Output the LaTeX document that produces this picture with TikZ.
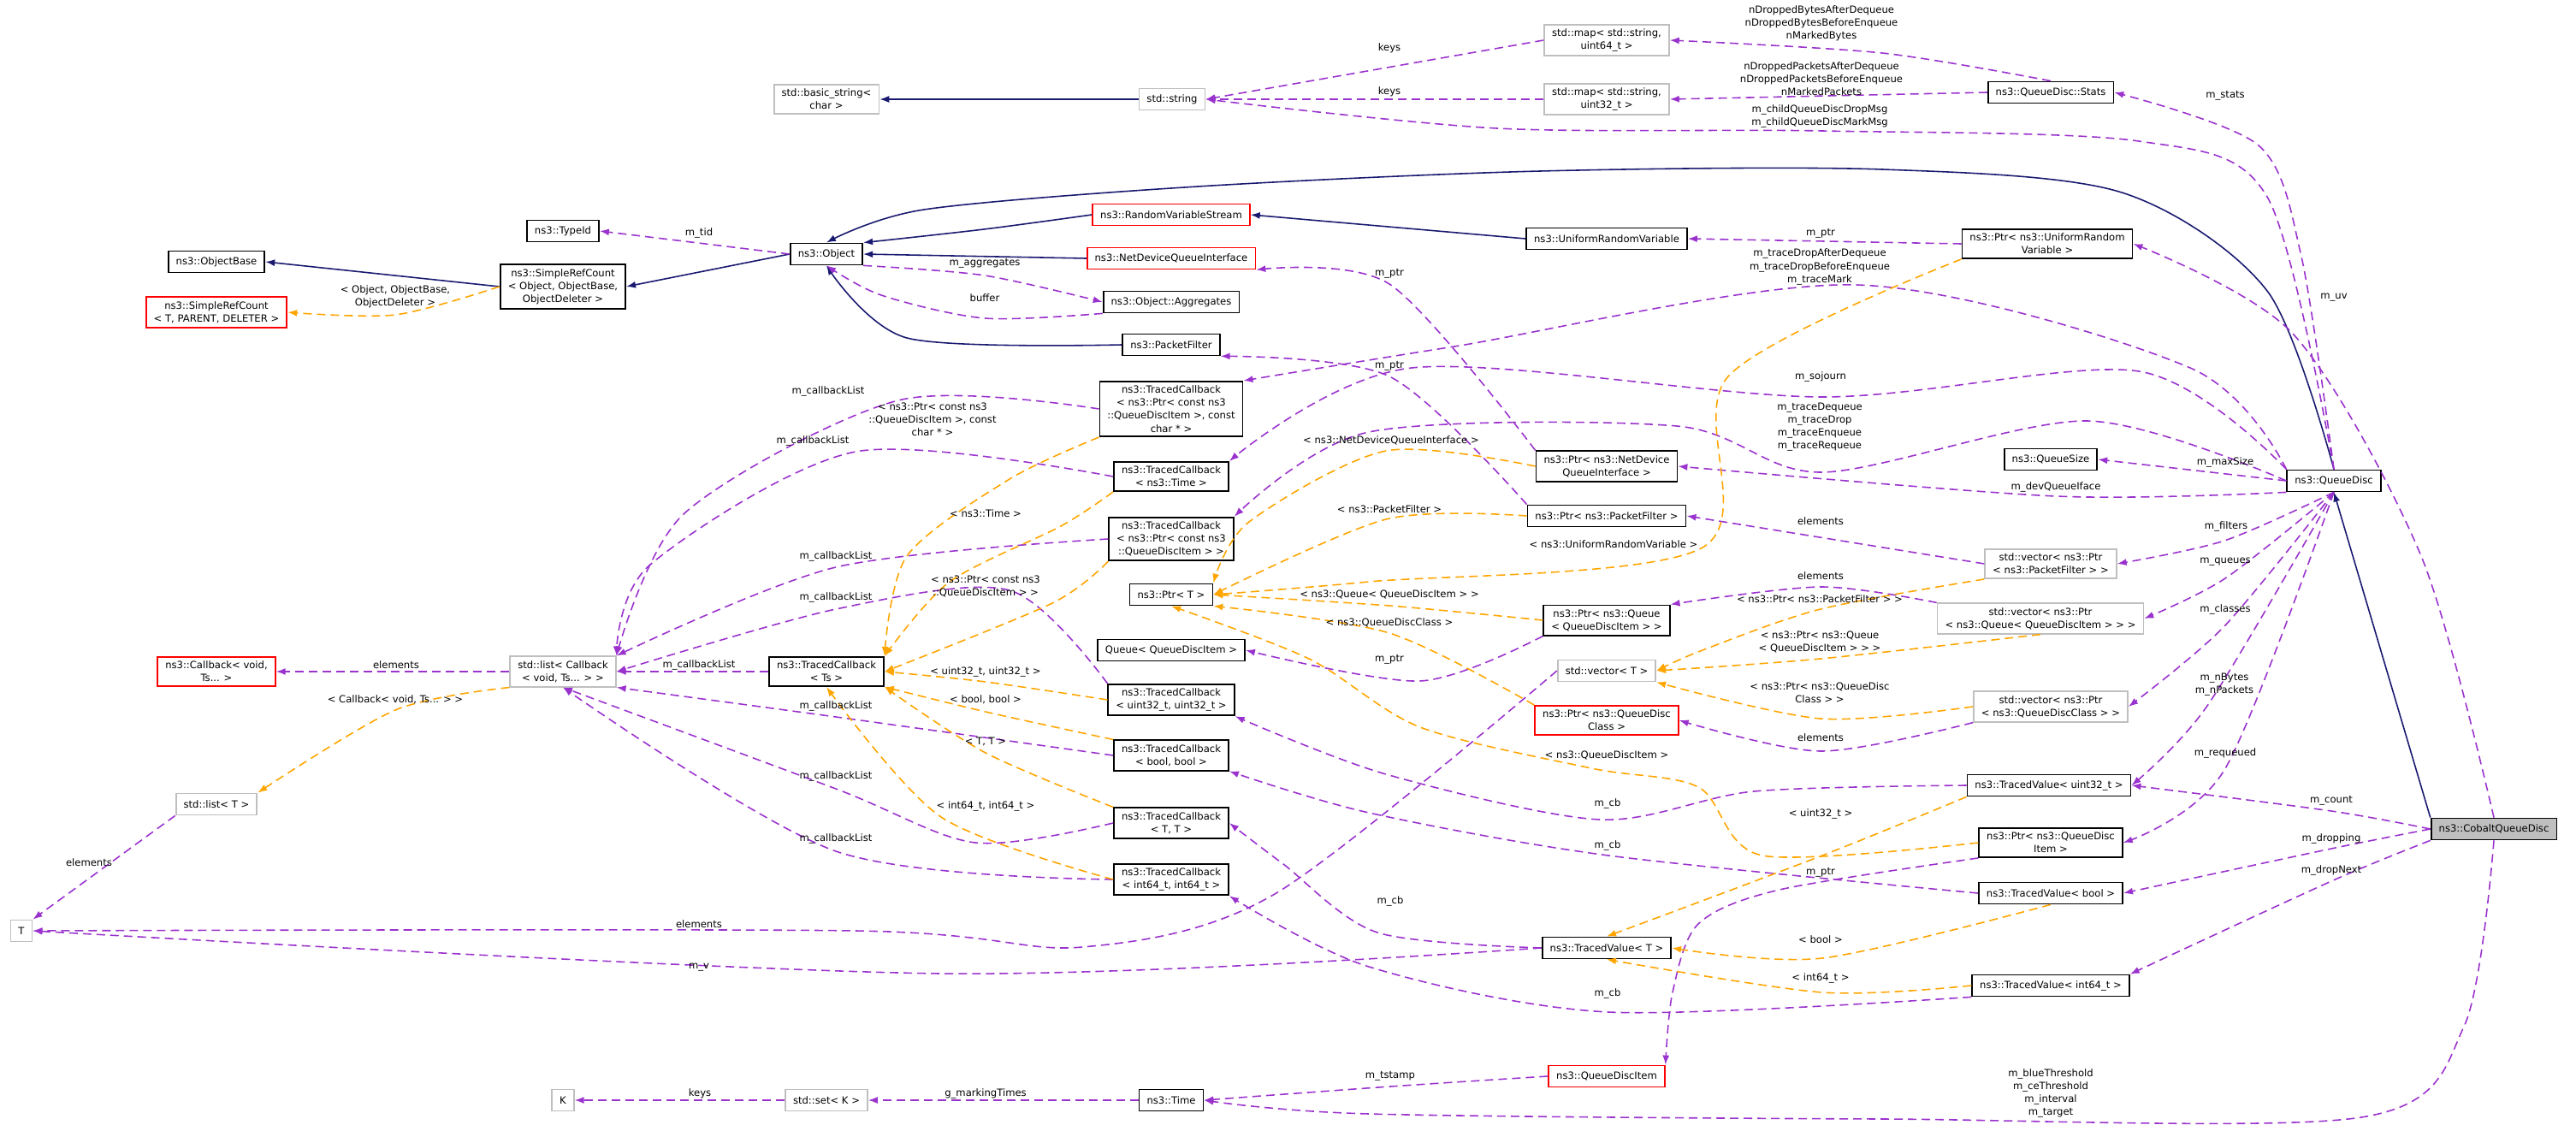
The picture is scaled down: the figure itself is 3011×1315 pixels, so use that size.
\documentclass[tikz,border=0pt]{standalone}
\usepackage{fontspec}
\setmainfont{DejaVu Sans}
\usetikzlibrary{arrows.meta}
\definecolor{myorchid}{RGB}{154,50,205}
\definecolor{myorange}{RGB}{255,165,0}
\definecolor{mynavy}{RGB}{25,25,112}
\definecolor{mygray}{RGB}{191,191,191}
\tikzset{
  box/.style={rectangle, draw=black, line width=0.5pt, fill=white, align=center, inner xsep=0.9mm, inner ysep=0.5mm, minimum height=0.25cm},
  redbox/.style={box, draw=red},
  graybox/.style={box, draw=mygray},
  inh/.style={draw=mynavy, line width=0.45pt, -{Latex[length=1.1mm,width=0.8mm]}},
  usage/.style={draw=myorchid, line width=0.45pt, dash pattern=on 1mm off 0.6mm, -{Latex[length=1.1mm,width=0.8mm]}},
  tmpl/.style={draw=myorange, line width=0.45pt, dash pattern=on 1mm off 0.6mm, -{Latex[length=1.1mm,width=0.8mm]}},
  lbl/.style={align=center, inner sep=0pt}
}

\begin{document}
\begin{tikzpicture}[x=0.01cm, y=-0.01cm, font=\fontsize{3.3}{4.3}\selectfont]
\useasboundingbox (0,0) rectangle (3011,1315);

% boxes
\node [graybox] (basic) at (966,116) {std::basic\_string\textless\\ char \textgreater};
\node [graybox] (string) at (1370,116) {std::string};
\node [graybox] (map64) at (1878,47) {std::map\textless{} std::string,\\ uint64\_t \textgreater};
\node [graybox] (map32) at (1878,116) {std::map\textless{} std::string,\\ uint32\_t \textgreater};
\node [box] (stats) at (2397,108) {ns3::QueueDisc::Stats};
\node [box] (typeid) at (658,270) {ns3::TypeId};
\node [box] (objbase) at (253,306) {ns3::ObjectBase};
\node [box] (src) at (658,335) {ns3::SimpleRefCount\\ \textless{} Object, ObjectBase,\\ ObjectDeleter \textgreater};
\node [redbox] (srct) at (253,365) {ns3::SimpleRefCount\\ \textless{} T, PARENT, DELETER \textgreater};
\node [box] (object) at (966,297) {ns3::Object};
\node [redbox] (rvs) at (1369,251) {ns3::RandomVariableStream};
\node [box] (urv) at (1878,279) {ns3::UniformRandomVariable};
\node [box] (ptrurv) at (2393,285) {ns3::Ptr\textless{} ns3::UniformRandom\\ Variable \textgreater};
\node [redbox] (ndqi) at (1369,302) {ns3::NetDeviceQueueInterface};
\node [box] (aggr) at (1369,353) {ns3::Object::Aggregates};
\node [box] (pf) at (1369,403) {ns3::PacketFilter};
\node [box] (tcpc) at (1369,478) {ns3::TracedCallback\\ \textless{} ns3::Ptr\textless{} const ns3\\ ::QueueDiscItem \textgreater, const\\ char * \textgreater};
\node [box] (tctime) at (1369,557) {ns3::TracedCallback\\ \textless{} ns3::Time \textgreater};
\node [box] (tcp) at (1369,630) {ns3::TracedCallback\\ \textless{} ns3::Ptr\textless{} const ns3\\ ::QueueDiscItem \textgreater{} \textgreater};
\node [box] (ptrt) at (1369,695) {ns3::Ptr\textless{} T \textgreater};
\node [box] (queue) at (1369,760) {Queue\textless{} QueueDiscItem \textgreater};
\node [box] (tcu32) at (1369,818) {ns3::TracedCallback\\ \textless{} uint32\_t, uint32\_t \textgreater};
\node [box] (tcbool) at (1369,883) {ns3::TracedCallback\\ \textless{} bool, bool \textgreater};
\node [box] (tctt) at (1369,962) {ns3::TracedCallback\\ \textless{} T, T \textgreater};
\node [box] (tci64) at (1369,1028) {ns3::TracedCallback\\ \textless{} int64\_t, int64\_t \textgreater};
\node [box] (ptrndqi) at (1878,545) {ns3::Ptr\textless{} ns3::NetDevice\\ QueueInterface \textgreater};
\node [box] (ptrpf) at (1878,603) {ns3::Ptr\textless{} ns3::PacketFilter \textgreater};
\node [box] (ptrq) at (1878,725) {ns3::Ptr\textless{} ns3::Queue\\ \textless{} QueueDiscItem \textgreater{} \textgreater};
\node [graybox] (vect) at (1878,784) {std::vector\textless{} T \textgreater};
\node [redbox] (ptrqdc) at (1878,842) {ns3::Ptr\textless{} ns3::QueueDisc\\ Class \textgreater};
\node [box] (qsize) at (2397,537) {ns3::QueueSize};
\node [graybox] (vpf) at (2397,659) {std::vector\textless{} ns3::Ptr\\ \textless{} ns3::PacketFilter \textgreater{} \textgreater};
\node [graybox] (vq) at (2385,723) {std::vector\textless{} ns3::Ptr\\ \textless{} ns3::Queue\textless{} QueueDiscItem \textgreater{} \textgreater{} \textgreater};
\node [graybox] (vqdc) at (2397,826) {std::vector\textless{} ns3::Ptr\\ \textless{} ns3::QueueDiscClass \textgreater{} \textgreater};
\node [box] (qd) at (2728,562) {ns3::QueueDisc};
\node [box] (tvu32) at (2395,918) {ns3::TracedValue\textless{} uint32\_t \textgreater};
\node [box] (ptrqdi) at (2397,985) {ns3::Ptr\textless{} ns3::QueueDisc\\ Item \textgreater};
\node [box] (tvbool) at (2397,1044) {ns3::TracedValue\textless{} bool \textgreater};
\node [box] (tvt) at (1878,1108) {ns3::TracedValue\textless{} T \textgreater};
\node [box] (tvi64) at (2397,1152) {ns3::TracedValue\textless{} int64\_t \textgreater};
\node [redbox] (qdi) at (1878,1258) {ns3::QueueDiscItem};
\node [box, fill=mygray] (cobalt) at (2915,969) {ns3::CobaltQueueDisc};
\node [box] (tcts) at (966,785) {ns3::TracedCallback\\ \textless{} Ts \textgreater};
\node [graybox] (list) at (658,785) {std::list\textless{} Callback\\ \textless{} void, Ts... \textgreater{} \textgreater};
\node [redbox] (cb) at (253,785) {ns3::Callback\textless{} void,\\ Ts... \textgreater};
\node [graybox] (listt) at (253,940) {std::list\textless{} T \textgreater};
\node [graybox] (T) at (25,1088) {T};
\node [graybox] (K) at (658,1286) {K};
\node [graybox] (set) at (966,1286) {std::set\textless{} K \textgreater};
\node [box] (time) at (1369,1286) {ns3::Time};

% inheritance
\draw [inh] (string.west) -- (basic.east);
\draw [inh] (object.west) -- (src.east);
\draw [inh] (src.west) -- (objbase.east);
\draw [inh] plot [smooth] coordinates {(rvs.west) (1150,268) (object.north east)};
\draw [inh] (urv.west) -- (rvs.east);
\draw [inh] (ndqi.west) -- (object.east);
\draw [inh] plot [smooth] coordinates {(pf.west) (1060,395) (object.south)};
\draw [inh] plot [smooth] coordinates {(qd.north) (2650,340) (2480,225) (2200,198) (1800,200) (1400,218) (1080,245) (object.north)};
\draw [inh] (cobalt.north west) -- (qd.south);

% members
\draw [usage] (object.west) -- (typeid.east);
\draw [usage] plot [smooth] coordinates {(object.south east) (1151,322) (aggr.west)};
\draw [usage] plot [smooth] coordinates {(aggr.south west) (1151,372) (1030,345) (object.south)};
\draw [usage] (map64.west) -- (string.east);
\draw [usage] (map32.west) -- (string.east);
\draw [usage] plot [smooth] coordinates {(stats.north) (2200,62) (map64.east)};
\draw [usage] (stats.west) -- (map32.east);
\draw [usage] plot [smooth] coordinates {(qd.north) (2650,230) (2500,165) (2130,153) (1750,150) (string.east)};
\draw [usage] plot [smooth] coordinates {(qd.north) (2690,300) (2640,170) (stats.east)};
\draw [usage] (ptrurv.west) -- (urv.east);
\draw [usage] plot [smooth] coordinates {(cobalt.north) (2830,650) (2680,390) (ptrurv.east)};
\draw [usage] plot [smooth] coordinates {(qd.north west) (2560,430) (2170,333) (1700,405) (tcpc.north east)};
\draw [usage] plot [smooth] coordinates {(qd.north west) (2500,434) (2128,464) (1650,430) (tctime.north east)};
\draw [usage] plot [smooth] coordinates {(qd.west) (2440,492) (2130,552) (1960,498) (1600,505) (tcp.north east)};
\draw [usage] (qd.west) -- (qsize.east);
\draw [usage] plot [smooth] coordinates {(qd.south west) (2403,580) (ptrndqi.east)};
\draw [usage] plot [smooth] coordinates {(ptrndqi.north west) (1624,332) (ndqi.south east)};
\draw [usage] plot [smooth] coordinates {(ptrpf.north west) (1624,440) (pf.south east)};
\draw [usage] (vpf.west) -- (ptrpf.east);
\draw [usage] plot [smooth] coordinates {(qd.south) (2600,632) (vpf.east)};
\draw [usage] plot [smooth] coordinates {(vq.north west) (2128,686) (ptrq.north east)};
\draw [usage] plot [smooth] coordinates {(qd.south) (2601,676) (vq.east)};
\draw [usage] plot [smooth] coordinates {(ptrq.south west) (1660,796) (queue.east)};
\draw [usage] plot [smooth] coordinates {(vqdc.south west) (2128,878) (ptrqdc.east)};
\draw [usage] plot [smooth] coordinates {(qd.south) (2600,732) (vqdc.east)};
\draw [usage] plot [smooth] coordinates {(qd.south) (2580,825) (tvu32.east)};
\draw [usage] plot [smooth] coordinates {(qd.south) (2600,900) (ptrqdi.east)};
\draw [usage] plot [smooth] coordinates {(cobalt.west) (2725,948) (tvu32.east)};
\draw [usage] plot [smooth] coordinates {(cobalt.west) (2725,992) (tvbool.east)};
\draw [usage] plot [smooth] coordinates {(cobalt.south west) (2725,1030) (tvi64.north east)};
\draw [usage] plot [smooth] coordinates {(cobalt.south) (2880,1200) (2760,1306) (2200,1308) (1600,1302) (time.east)};
\draw [usage] plot [smooth] coordinates {(tvu32.west) (2050,925) (1870,958) (1620,905) (tcu32.south east)};
\draw [usage] plot [smooth] coordinates {(tvbool.west) (1880,1000) (1600,950) (tcbool.south east)};
\draw [usage] plot [smooth] coordinates {(tvt.west) (1610,1090) (1500,1010) (tctt.east)};
\draw [usage] plot [smooth] coordinates {(tvi64.south west) (1880,1183) (1600,1130) (tci64.south east)};
\draw [usage] plot [smooth] coordinates {(tvt.west) (1100,1138) (T.east)};
\draw [usage] plot [smooth] coordinates {(vect.west) (1490,1045) (1265,1107) (1000,1088) (T.east)};
\draw [usage] (listt.south west) -- (T.north east);
\draw [usage] plot [smooth] coordinates {(ptrqdi.south west) (2080,1040) (1985,1080) (1955,1160) (qdi.north east)};
\draw [usage] plot [smooth] coordinates {(qdi.west) (1625,1270) (time.east)};
\draw [usage] (time.west) -- (set.east);
\draw [usage] (set.west) -- (K.east);
\draw [usage] (list.west) -- (cb.east);
\draw [usage] plot [smooth] coordinates {(tcpc.west) (1050,468) (800,600) (list.north east)};
\draw [usage] plot [smooth] coordinates {(tctime.west) (1000,528) (760,660) (list.north east)};
\draw [usage] plot [smooth] coordinates {(tcp.west) (977,663) (list.north east)};
\draw [usage] (tcts.west) -- (list.east);
\draw [usage] plot [smooth] coordinates {(tcu32.north west) (1180,690) (977,712) (list.east)};
\draw [usage] plot [smooth] coordinates {(tcbool.west) (977,838) (list.south east)};
\draw [usage] plot [smooth] coordinates {(tctt.west) (1140,985) (977,922) (list.south)};
\draw [usage] plot [smooth] coordinates {(tci64.west) (977,995) (list.south)};

% template instances
\draw [tmpl] plot [smooth] coordinates {(src.west) (462,368) (srct.east)};
\draw [tmpl] plot [smooth] coordinates {(list.south west) (462,830) (listt.north east)};
\draw [tmpl] plot [smooth] coordinates {(tcpc.south west) (1180,560) (1060,650) (tcts.north east)};
\draw [tmpl] plot [smooth] coordinates {(tctime.south west) (1240,615) (1110,680) (tcts.north east)};
\draw [tmpl] plot [smooth] coordinates {(tcp.south west) (1230,705) (tcts.east)};
\draw [tmpl] plot [smooth] coordinates {(tcu32.west) (1152,797) (tcts.east)};
\draw [tmpl] plot [smooth] coordinates {(tcbool.north west) (1152,832) (tcts.south east)};
\draw [tmpl] plot [smooth] coordinates {(tctt.north west) (1152,880) (tcts.south east)};
\draw [tmpl] plot [smooth] coordinates {(tci64.west) (1100,955) (tcts.south)};
\draw [tmpl] plot [smooth] coordinates {(ptrndqi.west) (1620,527) (1460,610) (ptrt.north east)};
\draw [tmpl] plot [smooth] coordinates {(ptrpf.west) (1620,607) (ptrt.east)};
\draw [tmpl] plot [smooth] coordinates {(ptrurv.south west) (2020,440) (1990,640) (1600,680) (ptrt.east)};
\draw [tmpl] plot [smooth] coordinates {(ptrq.west) (1624,708) (ptrt.east)};
\draw [tmpl] plot [smooth] coordinates {(ptrqdc.north west) (1624,740) (ptrt.south east)};
\draw [tmpl] plot [smooth] coordinates {(ptrqdi.west) (2060,1000) (1985,920) (1860,898) (1660,850) (1530,770) (ptrt.south)};
\draw [tmpl] plot [smooth] coordinates {(vpf.south west) (2128,712) (1990,760) (vect.east)};
\draw [tmpl] plot [smooth] coordinates {(vq.south) (2128,770) (vect.east)};
\draw [tmpl] plot [smooth] coordinates {(vqdc.west) (2128,840) (vect.south east)};
\draw [tmpl] plot [smooth] coordinates {(tvu32.south west) (2130,1000) (tvt.north)};
\draw [tmpl] plot [smooth] coordinates {(tvbool.south) (2130,1120) (tvt.east)};
\draw [tmpl] plot [smooth] coordinates {(tvi64.west) (2130,1160) (tvt.south)};

% labels
\node [lbl] (ltid) at (817,272) {m\_tid};
\node [lbl] (laggr) at (1151,308) {m\_aggregates};
\node [lbl] (lbuf) at (1151,348) {buffer};
\node [lbl] (lsrct) at (462,347) {\textless{} Object, ObjectBase,\\ ObjectDeleter \textgreater};
\node [lbl] (lkeys1) at (1624,56) {keys};
\node [lbl] (lkeys2) at (1624,107) {keys};
\node [lbl] (lbytes) at (2129,27) {nDroppedBytesAfterDequeue\\ nDroppedBytesBeforeEnqueue\\ nMarkedBytes};
\node [lbl] (lpkts) at (2129,92) {nDroppedPacketsAfterDequeue\\ nDroppedPacketsBeforeEnqueue\\ nMarkedPackets};
\node [lbl] (lchild) at (2127,136) {m\_childQueueDiscDropMsg\\ m\_childQueueDiscMarkMsg};
\node [lbl] (lstats) at (2601,112) {m\_stats};
\node [lbl] (luv) at (2728,348) {m\_uv};
\node [lbl] (lptr1) at (2128,273) {m\_ptr};
\node [lbl] (ltdrop) at (2127,312) {m\_traceDropAfterDequeue\\ m\_traceDropBeforeEnqueue\\ m\_traceMark};
\node [lbl] (lptr2) at (1624,320) {m\_ptr};
\node [lbl] (lptr3) at (1624,428) {m\_ptr};
\node [lbl] (lsoj) at (2128,440) {m\_sojourn};
\node [lbl] (ltrace) at (2127,499) {m\_traceDequeue\\ m\_traceDrop\\ m\_traceEnqueue\\ m\_traceRequeue};
\node [lbl] (lmax) at (2601,540) {m\_maxSize};
\node [lbl] (ldev) at (2403,569) {m\_devQueueIface};
\node [lbl] (lel1) at (2128,609) {elements};
\node [lbl] (lfil) at (2602,615) {m\_filters};
\node [lbl] (lque) at (2601,657) {m\_queues};
\node [lbl] (lel2) at (2128,673) {elements};
\node [lbl] (lcla) at (2601,712) {m\_classes};
\node [lbl] (lnb) at (2600,800) {m\_nBytes\\ m\_nPackets};
\node [lbl] (lel3) at (2128,862) {elements};
\node [lbl] (lreq) at (2601,880) {m\_requeued};
\node [lbl] (lcnt) at (2725,936) {m\_count};
\node [lbl] (ldrp) at (2725,980) {m\_dropping};
\node [lbl] (ldn) at (2725,1017) {m\_dropNext};
\node [lbl] (lthr) at (2397,1278) {m\_blueThreshold\\ m\_ceThreshold\\ m\_interval\\ m\_target};
\node [lbl] (lndqi) at (1626,515) {\textless{} ns3::NetDeviceQueueInterface \textgreater};
\node [lbl] (lpf) at (1624,595) {\textless{} ns3::PacketFilter \textgreater};
\node [lbl] (lurv) at (1886,636) {\textless{} ns3::UniformRandomVariable \textgreater};
\node [lbl] (lq) at (1624,695) {\textless{} ns3::Queue\textless{} QueueDiscItem \textgreater{} \textgreater};
\node [lbl] (lqdc) at (1624,728) {\textless{} ns3::QueueDiscClass \textgreater};
\node [lbl] (lptr4) at (1624,771) {m\_ptr};
\node [lbl] (lvpf) at (2127,700) {\textless{} ns3::Ptr\textless{} ns3::PacketFilter \textgreater{} \textgreater};
\node [lbl] (lvq) at (2127,750) {\textless{} ns3::Ptr\textless{} ns3::Queue\\ \textless{} QueueDiscItem \textgreater{} \textgreater{} \textgreater};
\node [lbl] (lvqdc) at (2127,810) {\textless{} ns3::Ptr\textless{} ns3::QueueDisc\\ Class \textgreater{} \textgreater};
\node [lbl] (lqdi) at (1878,883) {\textless{} ns3::QueueDiscItem \textgreater};
\node [lbl] (lcb1) at (1879,939) {m\_cb};
\node [lbl] (lu32) at (2128,951) {\textless{} uint32\_t \textgreater};
\node [lbl] (lcb2) at (1879,988) {m\_cb};
\node [lbl] (lptr5) at (2128,1020) {m\_ptr};
\node [lbl] (lcb3) at (1625,1053) {m\_cb};
\node [lbl] (lbool) at (2128,1098) {\textless{} bool \textgreater};
\node [lbl] (li64) at (2128,1143) {\textless{} int64\_t \textgreater};
\node [lbl] (lcb4) at (1879,1161) {m\_cb};
\node [lbl] (ltst) at (1625,1258) {m\_tstamp};
\node [lbl] (lmark) at (1152,1278) {g\_markingTimes};
\node [lbl] (lkeys3) at (818,1278) {keys};
\node [lbl] (lel4) at (817,1080) {elements};
\node [lbl] (lmv) at (817,1131) {m\_v};
\node [lbl] (lel5) at (104,1008) {elements};
\node [lbl] (lel6) at (463,777) {elements};
\node [lbl] (lcbl) at (462,818) {\textless{} Callback\textless{} void, Ts... \textgreater{} \textgreater};
\node [lbl] (lcl1) at (968,457) {m\_callbackList};
\node [lbl] (lcl2) at (950,515) {m\_callbackList};
\node [lbl] (lcl3) at (977,650) {m\_callbackList};
\node [lbl] (lcl4) at (977,698) {m\_callbackList};
\node [lbl] (lcl5) at (817,777) {m\_callbackList};
\node [lbl] (lcl6) at (977,825) {m\_callbackList};
\node [lbl] (lcl7) at (977,907) {m\_callbackList};
\node [lbl] (lcl8) at (977,980) {m\_callbackList};
\node [lbl] (ltpc) at (1090,490) {\textless{} ns3::Ptr\textless{} const ns3\\ ::QueueDiscItem \textgreater, const\\ char * \textgreater};
\node [lbl] (lttime) at (1152,600) {\textless{} ns3::Time \textgreater};
\node [lbl] (ltp) at (1152,685) {\textless{} ns3::Ptr\textless{} const ns3\\ ::QueueDiscItem \textgreater{} \textgreater};
\node [lbl] (ltu32) at (1152,785) {\textless{} uint32\_t, uint32\_t \textgreater};
\node [lbl] (ltbool) at (1152,818) {\textless{} bool, bool \textgreater};
\node [lbl] (ltt) at (1152,867) {\textless{} T, T \textgreater};
\node [lbl] (lti64) at (1152,942) {\textless{} int64\_t, int64\_t \textgreater};

\end{tikzpicture}
\end{document}
